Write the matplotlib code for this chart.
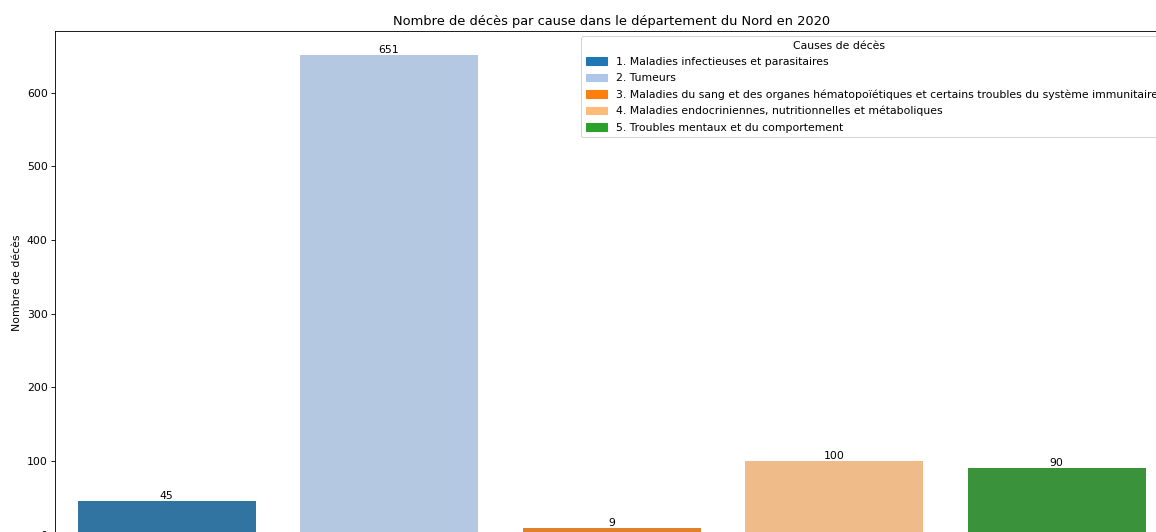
import colorsys
import matplotlib
matplotlib.use('Agg')
import matplotlib.pyplot as plt
import matplotlib.colors as mcolors
from matplotlib.patches import Patch

## Data
causes = [
    "1. Maladies infectieuses et parasitaires",
    "2. Tumeurs",
    "3. Maladies du sang et des organes hématopoïétiques et certains troubles du système immunitaire",
    "4. Maladies endocriniennes, nutritionnelles et métaboliques",
    "5. Troubles mentaux et du comportement",
]
deces = [45, 651, 9, 100, 90]
palette = ['#1f77b4', '#aec7e8', '#ff7f0e', '#ffbb78', '#2ca02c']


def desaturate(color, prop=0.75):
    # same as seaborn's default bar saturation
    r, g, b = mcolors.to_rgb(color)
    h, l, s = colorsys.rgb_to_hls(r, g, b)
    return colorsys.hls_to_rgb(h, l, s * prop)


DPI = 78
fig = plt.figure(figsize=(1156/DPI, 532/DPI), dpi=DPI)
# the axes run a bit past the right and bottom edges of the picture
ax = fig.add_axes([55.25/1156, -2.6/532, 1112.5/1156, 503.6/532])

x = list(range(len(causes)))
bars = ax.bar(x, deces, width=0.8, color=[desaturate(c) for c in palette])
ax.bar_label(bars, labels=[str(v) for v in deces])

ax.set_xlim(-0.5, len(causes) - 0.5)
ax.set_ylim(0, max(deces) * 1.05)
ax.set_xticks(x)
ax.set_xticklabels([])
ax.set_ylabel('Nombre de décès')
ax.set_title('Nombre de décès par cause dans le département du Nord en 2020')

handles = [Patch(color=c, label=lab) for c, lab in zip(palette, causes)]
# trailing spaces push the centred title a little to the left, as in the original
ax.legend(handles=handles, title='Causes de décès' + ' ' * 19,
          loc='upper right', labelspacing=0.57)

fig.savefig('out.png', dpi=DPI)
